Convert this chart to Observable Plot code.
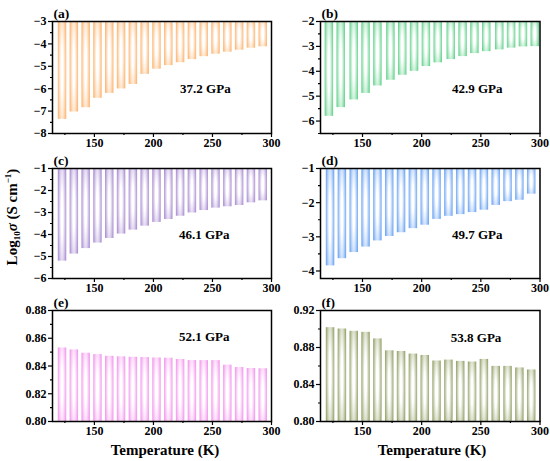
<!DOCTYPE html>
<html><head><meta charset="utf-8">
<script src="https://cdn.jsdelivr.net/npm/d3@7"></script>
<script src="https://cdn.jsdelivr.net/npm/@observablehq/plot@0.6"></script>
<style>
body{margin:0;background:#fff;}
#wrap{position:relative;width:550px;height:461px;overflow:hidden;background:#fff;}
.p{position:absolute;}
#wrap svg, #wrap svg text{font-family:"Liberation Serif","Times New Roman","DejaVu Serif",serif !important;font-weight:bold;}
</style></head><body><div id="wrap"></div>
<script>
// Temperatures (K) of the bars
const temps  = [123,133,143,153,163,173,183,193,203,213,223,233,243,253,263,273,283,293];
const tempsB = [122,132,143,153,163,174,184,194,204,214,225,235,245,255,266,276,286,296];
// log10 sigma values per pressure
const sigmaA = [-7.37,-7.04,-6.85,-6.43,-6.21,-6.01,-5.81,-5.36,-5.13,-4.97,-4.84,-4.70,-4.57,-4.46,-4.37,-4.28,-4.19,-4.13];
const sigmaB = [-5.81,-5.46,-5.15,-4.89,-4.59,-4.36,-4.16,-4.00,-3.81,-3.66,-3.53,-3.41,-3.29,-3.21,-3.14,-3.07,-3.02,-3.01];
const sigmaC = [-5.21,-4.89,-4.64,-4.39,-4.18,-3.98,-3.80,-3.62,-3.45,-3.32,-3.17,-3.02,-2.91,-2.80,-2.74,-2.68,-2.56,-2.47];
const sigmaD = [-3.85,-3.64,-3.46,-3.30,-3.12,-2.99,-2.88,-2.76,-2.66,-2.49,-2.40,-2.35,-2.29,-2.22,-2.08,-1.97,-1.93,-1.75];
const sigmaE = [0.8530,0.8516,0.8492,0.8482,0.8470,0.8466,0.8463,0.8461,0.8458,0.8456,0.8447,0.8439,0.8439,0.8439,0.8406,0.8389,0.8382,0.8380];
const sigmaF = [0.9014,0.9000,0.8975,0.8964,0.8893,0.8764,0.8757,0.8729,0.8714,0.8654,0.8664,0.8650,0.8643,0.8671,0.8596,0.8596,0.8579,0.8557];
const letters   = ["(a)","(b)","(c)","(d)","(e)","(f)"];
const pressures = ["37.2 GPa","42.9 GPa","46.1 GPa","49.7 GPa","52.1 GPa","53.8 GPa"];
const colors    = ["#FDB878","#6DD493","#AF94D5","#74A9F3","#F39DEE","#9BA874"];
const xMajor = [150,200,250,300];
const xMinor = [125,175,225,275];
const yDomains = [[-8,-3],[-6.5,-2],[-6,-1],[-4.22,-1],[0.80,0.88],[0.80,0.92]];
const yMajors = [[-3,-4,-5,-6,-7,-8],[-2,-3,-4,-5,-6],[-1,-2,-3,-4,-5,-6],[-1,-2,-3,-4],[0.80,0.82,0.84,0.86,0.88],[0.80,0.84,0.88,0.92]];
const yMinors = [[-3.5,-4.5,-5.5,-6.5,-7.5],[-2.5,-3.5,-4.5,-5.5,-6.5],[-1.5,-2.5,-3.5,-4.5,-5.5],[-1.5,-2.5,-3.5],[0.81,0.83,0.85,0.87],[0.82,0.86,0.90]];
const barBase = ["top","top","top","top","bottom","bottom"];
const labelPos = [[244,-6.0],[247,-4.72],[243,-4.0],[247,-2.94],[243,0.861],[246,0.8904]];

const seriesT = [temps,tempsB,temps,temps,temps,temps];
const seriesV = [sigmaA,sigmaB,sigmaC,sigmaD,sigmaE,sigmaF];

const FONT = '"Liberation Serif","Times New Roman","DejaVu Serif",serif';
const wrap = document.getElementById("wrap");
const rowTop = [21,168,310];
const rowH = [112,110,111];
const MT = 21, MB = 20;

for (let k = 0; k < 6; k++) {
  const col = k % 2, row = Math.floor(k / 2);
  const dom = yDomains[k];
  const base = barBase[k] === "top" ? dom[1] : dom[0];
  const data = seriesT[k].map((t, i) => ({t, v: seriesV[k][i]}));
  const fmt = k >= 4 ? d3.format(".2f") : d3.format("d");
  const mL = col === 0 ? 52 : 45;
  const mR = col === 0 ? 4 : 10.5;
  const id = "grad" + k;
  const svg = Plot.plot({
    width: 275,
    height: MT + rowH[row] + MB,
    marginLeft: mL, marginRight: mR, marginTop: MT, marginBottom: MB,
    style: {fontFamily: FONT, fontWeight: "bold", fontSize: "12px", background: "transparent", overflow: "visible", color: "black"},
    x: {domain: [114.5, 300], label: null},
    y: {domain: dom, label: null},
    marks: [
      Plot.rect(data, {x1: d => d.t - 3.6, x2: d => d.t + 3.6, y1: d => base, y2: "v", fill: `url(#${id})`}),
      Plot.frame({stroke: "black", strokeWidth: 1.5}),
      Plot.axisX(xMajor, {tickSize: 4, tickPadding: 1, strokeWidth: 1.2, tickFormat: d3.format("d"), label: null}),
      Plot.axisX(xMinor, {tickSize: 2, strokeWidth: 1.2, tickFormat: () => "", label: null}),
      Plot.axisY(yMajors[k], {tickSize: 4, tickPadding: 2, strokeWidth: 1.2, tickFormat: fmt, label: null}),
      Plot.axisY(yMinors[k], {tickSize: 2, strokeWidth: 1.2, tickFormat: () => "", label: null}),
      Plot.text([{x: labelPos[k][0], y: labelPos[k][1], s: pressures[k]}], {x: "x", y: "y", text: "s", fontSize: 13, fontWeight: "bold"}),
      Plot.text([letters[k]], {frameAnchor: "top-left", text: d => d, dx: 1, dy: -4, lineAnchor: "bottom", textAnchor: "start", fontSize: 13.5, fontWeight: "bold"})
    ]
  });
  const defs = d3.select(svg).insert("defs", ":first-child");
  const g = defs.append("radialGradient").attr("id", id)
    .attr("cx", 0.5).attr("cy", 0.5).attr("r", 0.5)
    .attr("gradientTransform", "translate(0.5 0.5) scale(1 1.9) translate(-0.5 -0.5)");
  g.append("stop").attr("offset", "0%").attr("stop-color", "#ffffff");
  g.append("stop").attr("offset", "25%").attr("stop-color", "#ffffff");
  g.append("stop").attr("offset", "60%").attr("stop-color", d3.interpolateRgb(colors[k], "#ffffff")(0.55));
  g.append("stop").attr("offset", "100%").attr("stop-color", colors[k]);
  const div = document.createElement("div");
  div.className = "p";
  div.style.left = (col * 275) + "px";
  div.style.top = (rowTop[row] - MT) + "px";
  div.appendChild(svg);
  wrap.appendChild(div);
}

// Shared axis titles
const ov = d3.select(wrap).append("svg").attr("class", "p")
  .attr("width", 550).attr("height", 461)
  .style("left", "0px").style("top", "0px").style("pointer-events", "none")
  .style("font-family", FONT).style("font-weight", "bold");
const yl = ov.append("text").attr("transform", "translate(17,217) rotate(-90)")
  .attr("text-anchor", "middle").attr("font-size", 15);
yl.append("tspan").text("Log");
yl.append("tspan").attr("font-size", 9).attr("dy", 3).text("10");
yl.append("tspan").attr("font-style", "italic").attr("dy", -3).text("σ");
yl.append("tspan").text(" (S cm");
yl.append("tspan").attr("font-size", 9).attr("dy", -6).text("−1");
yl.append("tspan").attr("dy", 6).text(")");
ov.append("text").attr("x", 165).attr("y", 455).attr("text-anchor", "middle").attr("font-size", 15).text("Temperature (K)");
ov.append("text").attr("x", 432).attr("y", 455).attr("text-anchor", "middle").attr("font-size", 15).text("Temperature (K)");
</script></body></html>
